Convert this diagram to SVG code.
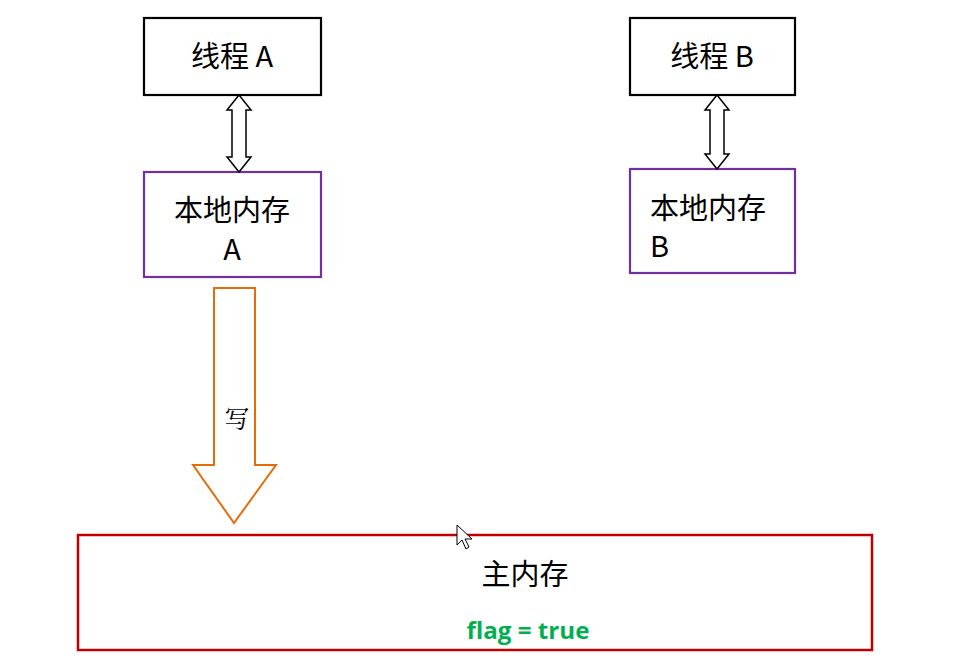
<svg xmlns="http://www.w3.org/2000/svg" width="977" height="672" viewBox="0 0 977 672">
<style>
.thread{fill:#fff;stroke:#000;stroke-width:2.2}
.local{fill:#fff;stroke:#7030A0;stroke-width:2.2}
.main{fill:#fff;stroke:#C00000;stroke-width:2.5}
.t{font-family:"Noto Sans CJK SC","Noto Sans",sans-serif;font-size:29px;fill:#000}
.dbl{fill:#fff;stroke:#000;stroke-width:1.5;stroke-linejoin:miter}
</style>
<rect width="977" height="672" fill="#fff"/>
<g id="threadA">
<rect class="thread" x="144" y="18" width="177" height="77"/>
<text class="t" x="232" y="67" text-anchor="middle" font-size="28">线程 A</text>
</g>
<g id="threadB">
<rect class="thread" x="630" y="18" width="165" height="77"/>
<text class="t" x="712" y="67" text-anchor="middle" font-size="28">线程 B</text>
</g>
<g id="localA">
<rect class="local" x="144" y="172" width="177" height="105"/>
<text class="t" x="232" y="221" text-anchor="middle">本地内存</text>
<text class="t" x="232" y="260" text-anchor="middle" font-size="24">A</text>
</g>
<g id="localB">
<rect class="local" x="630" y="169" width="165" height="104"/>
<text class="t" x="650" y="219">本地内存</text>
<text class="t" x="650" y="257" font-size="24">B</text>
</g>
<g id="mainMemory">
<rect class="main" x="78" y="535" width="794" height="115"/>
<text class="t" x="525" y="585" text-anchor="middle" font-size="30">主内存</text>
<text x="528" y="639" text-anchor="middle" font-family="'Open Sans','Liberation Sans',sans-serif" font-weight="bold" font-size="24" fill="#00B050" textLength="123" lengthAdjust="spacingAndGlyphs">flag = true</text>
</g>
<g id="connectors">
<polygon class="dbl" points="239,95 251,110 246,110 246,157 251,157 239,172 227,157 232,157 232,110 227,110"/>
<polygon class="dbl" points="717,95 729,110 724,110 724,154 729,154 717,169 705,154 710,154 710,110 705,110"/>
<polygon fill="#fff" stroke="#E46C0A" stroke-width="2" points="214,288 255,288 255,465 276,465 234,523 193,465 214,465"/>
<text x="237" y="428" text-anchor="middle" font-family="'Noto Serif CJK SC','Noto Sans CJK SC',serif" font-size="25" fill="#000">写</text>
</g>
<g id="cursor">
<polygon points="457,525 457,545 462,540 466,549 469,547 465,539 472,539" fill="#fff" stroke="#000" stroke-width="1"/>
</g>
</svg>
